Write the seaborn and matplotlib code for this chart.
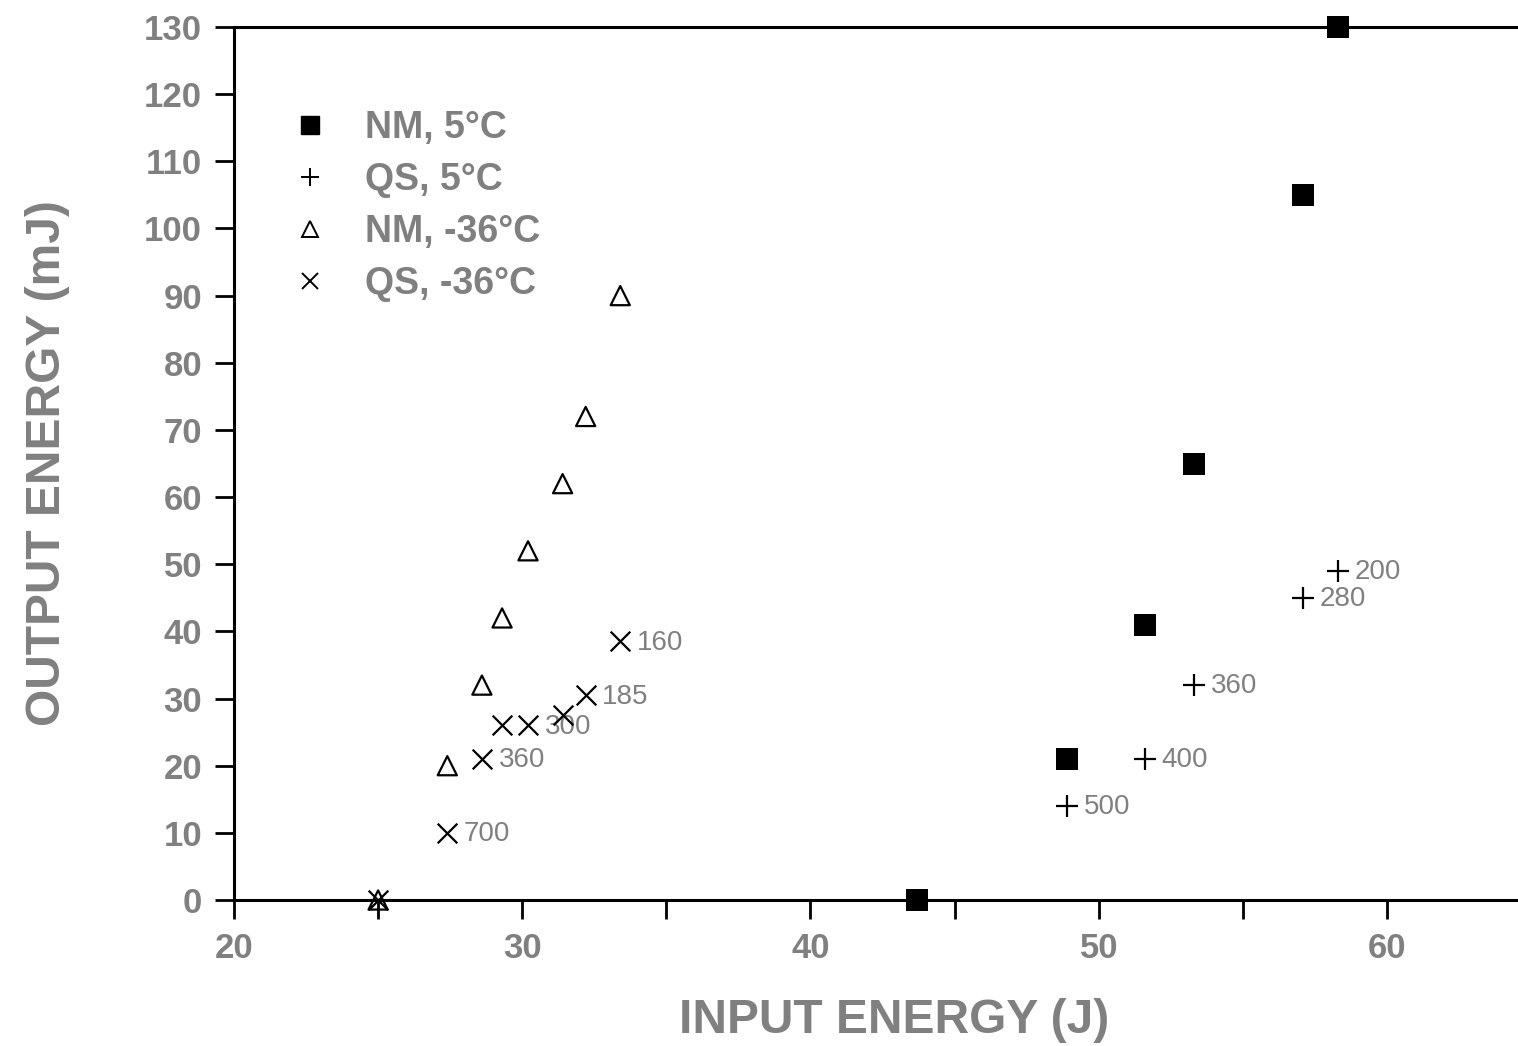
import numpy as np
import pandas as pd
import matplotlib
matplotlib.use("Agg")
import matplotlib.pyplot as plt
import seaborn as sns
from matplotlib.lines import Line2D

# ---- data ----
nm5_x = [43.7, 48.9, 51.6, 53.3, 57.1, 58.3]
nm5_y = [0, 21, 41, 65, 105, 130]

qs5_x = [48.9, 51.6, 53.3, 57.1, 58.3]
qs5_y = [14, 21, 32, 45, 49]
qs5_lab = ["500", "400", "360", "280", "200"]

nm36_x = [25.0, 27.4, 28.6, 29.3, 30.2, 31.4, 32.2, 33.4]
nm36_y = [0, 20, 32, 42, 52, 62, 72, 90]

qs36_x = [25.0, 27.4, 28.6, 29.3, 30.2, 31.4, 32.2, 33.4]
qs36_y = [0, 10, 21, 26, 26, 27.5, 30.5, 38.5]
qs36_lab = ["", "700", "360", "", "300", "", "185", "160"]

series_names = ["NM, 5°C", "QS, 5°C", "NM, -36°C", "QS, -36°C"]
x_ticks = [20, 25, 30, 35, 40, 45, 50, 55, 60]
x_ticklabels = ["20", "", "30", "", "40", "", "50", "", "60"]
y_ticks = list(range(0, 131, 10))

GRAY = "#808080"

sns.set_theme(style="ticks")
plt.rcParams["font.family"] = ["Liberation Sans", "DejaVu Sans"]

fig = plt.figure(figsize=(15.18, 10.46), dpi=100)
# axes extends slightly past the right edge of the figure (as in the reference)
ax = fig.add_axes([234 / 1518, 1 - 900 / 1046, (1554 - 234) / 1518, (900 - 27) / 1046])

sns.scatterplot(x=nm5_x, y=nm5_y, marker="s", s=230, color="black",
                edgecolor="black", linewidth=0, ax=ax, clip_on=False, zorder=5)
sns.scatterplot(x=qs5_x, y=qs5_y, marker="+", s=260, color="black",
                linewidth=1.6, ax=ax, clip_on=False, zorder=5)
sns.scatterplot(x=nm36_x, y=nm36_y, marker="^", s=190, facecolors="none",
                edgecolor="black", linewidth=1.6, ax=ax, clip_on=False, zorder=5)
sns.scatterplot(x=qs36_x, y=qs36_y, marker="x", s=200, color="black",
                linewidth=1.6, ax=ax, clip_on=False, zorder=5)

for xv, yv, lab in zip(qs5_x, qs5_y, qs5_lab):
    if lab:
        ax.annotate(lab, (xv, yv), xytext=(12, -1), textcoords="offset points",
                    color=GRAY, fontsize=20, va="center", ha="left")
for xv, yv, lab in zip(qs36_x, qs36_y, qs36_lab):
    if lab:
        ax.annotate(lab, (xv, yv), xytext=(12, -1), textcoords="offset points",
                    color=GRAY, fontsize=20, va="center", ha="left")

ax.set_xlim(20, 20 + 1320 / 28.825)
ax.set_ylim(0, 130)
ax.set_xticks(x_ticks)
ax.set_xticklabels(x_ticklabels)
ax.set_yticks(y_ticks)
ax.tick_params(axis="both", direction="out", length=14, width=2, color="black",
               labelsize=25, labelcolor=GRAY, pad=9)
for lbl in ax.get_xticklabels() + ax.get_yticklabels():
    lbl.set_fontweight("bold")

for side in ["left", "bottom", "top"]:
    ax.spines[side].set_linewidth(2.2)
    ax.spines[side].set_color("black")
ax.spines["right"].set_visible(False)

ax.set_xlabel("INPUT ENERGY (J)", fontsize=34.5, fontweight="bold", color=GRAY, labelpad=24)
ax.set_ylabel("OUTPUT ENERGY (mJ)", fontsize=34.5, fontweight="bold", color=GRAY, labelpad=53)

handles = [
    Line2D([], [], marker="s", color="black", linestyle="none", markersize=12.5),
    Line2D([], [], marker="+", color="black", linestyle="none", markersize=13, markeredgewidth=1.4),
    Line2D([], [], marker="^", color="black", markerfacecolor="none", linestyle="none",
           markersize=11, markeredgewidth=1.4),
    Line2D([], [], marker="x", color="black", linestyle="none", markersize=12, markeredgewidth=1.4),
]
leg = ax.legend(handles, series_names, loc="upper left",
                bbox_to_anchor=(291 / 1518, 1 - 110 / 1046), bbox_transform=fig.transFigure,
                frameon=False, fontsize=27, handletextpad=0.97, labelspacing=0.43,
                borderpad=0, borderaxespad=0, handlelength=1.0)
for t in leg.get_texts():
    t.set_color(GRAY)
    t.set_fontweight("bold")

fig.savefig("out.png", dpi=100)
